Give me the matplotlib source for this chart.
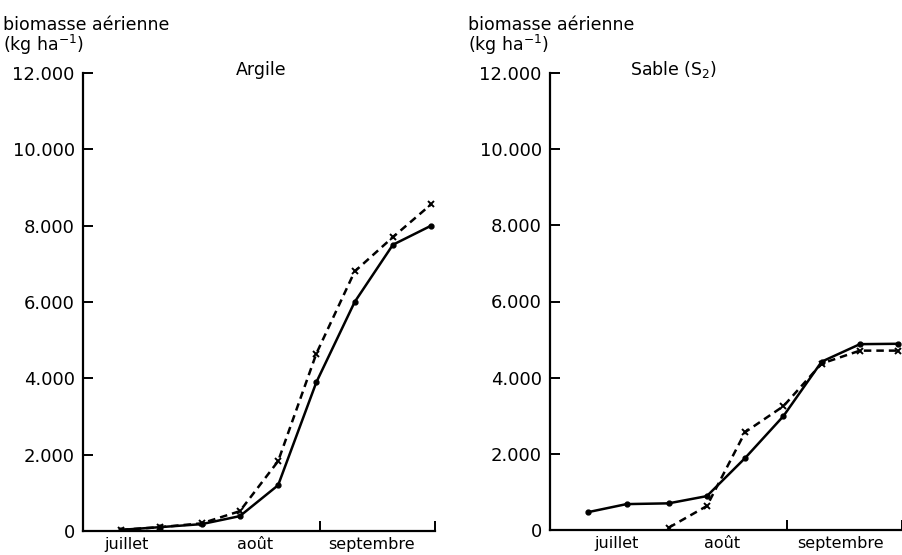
import matplotlib
matplotlib.use('Agg')
import matplotlib.pyplot as plt

# jours depuis le 1er juillet
days = [10, 20, 31, 41, 51, 61, 71, 81, 91]

argile_solid = [30, 100, 180, 390, 1200, 3900, 6000, 7500, 8000]
argile_dash = [30, 100, 200, 520, 1830, 4650, 6800, 7700, 8560]

sable_days_dash = [31, 41, 51, 61, 71, 81, 91]
sable_solid = [470, 680, 700, 890, 1890, 2990, 4420, 4880, 4890]
sable_dash = [60, 630, 2570, 3250, 4370, 4710, 4710]

yticks = [0, 2000, 4000, 6000, 8000, 10000, 12000]
ylabels = ['0', '2.000', '4.000', '6.000', '8.000', '10.000', '12.000']
months = ['juillet', 'août', 'septembre']

plt.rcParams['font.family'] = 'DejaVu Sans'

fig = plt.figure(figsize=(9.03, 5.55), dpi=100)
ax1 = fig.add_axes([83/903, 24/555, 352/903, 458/555])
ax2 = fig.add_axes([550/903, 25/555, 352/903, 457/555])


def style(ax, month_pos):
    ax.set_xlim(0, 92)
    ax.set_ylim(0, 12000)
    ax.spines['top'].set_visible(False)
    ax.spines['right'].set_visible(False)
    ax.spines['left'].set_linewidth(1.6)
    ax.spines['bottom'].set_linewidth(1.6)
    ax.set_yticks(yticks)
    ax.set_yticklabels(ylabels, fontsize=13)
    ax.set_xticks([62, 92])
    ax.set_xticklabels([])
    ax.tick_params(direction='in', length=7, width=1.4, pad=6)
    for m, p in zip(months, month_pos):
        ax.text(p, -470, m, ha='center', va='baseline', fontsize=11.5,
                transform=ax.transData)


ax1.plot(days, argile_solid, '-', color='black', lw=1.8, marker='o', ms=3.5)
ax1.plot(days, argile_dash, color='black', lw=1.8, ls=(0, (3, 2)),
         marker='x', ms=4, mew=1.4)
style(ax1, [11.4, 45, 75.5])

ax2.plot(days, sable_solid, '-', color='black', lw=1.8, marker='o', ms=3.5)
ax2.plot(sable_days_dash, sable_dash, color='black', lw=1.8, ls=(0, (3, 2)),
         marker='x', ms=4, mew=1.4)
style(ax2, [17.3, 45, 76])

fig.text(3/903, 1-30/555, 'biomasse aérienne', fontsize=12.5)
fig.text(3/903, 1-51/555, '(kg ha$^{-1}$)', fontsize=12.5)
fig.text(468/903, 1-30/555, 'biomasse aérienne', fontsize=12.5)
fig.text(468/903, 1-51/555, '(kg ha$^{-1}$)', fontsize=12.5)
fig.text(236/903, 1-75/555, 'Argile', fontsize=12.5)
fig.text(630/903, 1-75/555, 'Sable (S$_2$)', fontsize=12.5)

fig.savefig('out.png', dpi=100)
